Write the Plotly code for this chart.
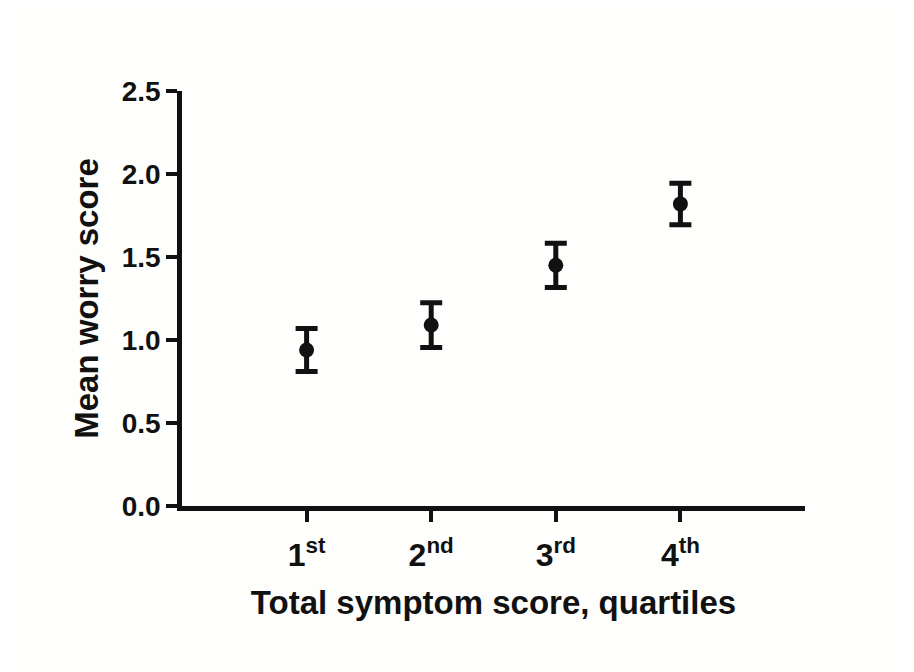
import plotly.graph_objects as go

categories = [1, 2, 3, 4]
tick_labels = ["1<sup>st</sup>", "2<sup>nd</sup>", "3<sup>rd</sup>", "4<sup>th</sup>"]
mean_worry = [0.94, 1.09, 1.45, 1.82]
error_vals = [0.13, 0.135, 0.133, 0.125]
y_ticks = [0.0, 0.5, 1.0, 1.5, 2.0, 2.5]
y_tick_labels = ["0.0", "0.5", "1.0", "1.5", "2.0", "2.5"]

fig = go.Figure()
fig.add_trace(go.Scatter(
    x=categories, y=mean_worry, mode="markers",
    marker=dict(color="#111111", size=15),
    error_y=dict(type="data", array=error_vals, visible=True,
                 color="#111111", thickness=5, width=11),
    showlegend=False,
))

font_family = "Liberation Sans, Arial, sans-serif"
fig.update_layout(
    width=914, height=672,
    margin=dict(l=174, r=117, t=83, b=174),
    paper_bgcolor="#fefefc", plot_bgcolor="#fefefc",
    font=dict(family=font_family, color="#111111"),
)
fig.update_xaxes(
    range=[0, 5], tickvals=categories, ticktext=tick_labels,
    showline=True, linecolor="#111111", linewidth=4.5,
    ticks="outside", ticklen=11, tickwidth=4, tickcolor="#111111",
    showgrid=False, zeroline=False, ticklabelstandoff=6,
    tickfont=dict(size=32, family=font_family, color="#111111", weight="bold"),
    title=dict(text="<b>Total symptom score, quartiles</b>", font=dict(size=33), standoff=20),
)
fig.update_yaxes(
    range=[0, 2.5], tickvals=y_ticks, ticktext=y_tick_labels,
    showline=True, linecolor="#111111", linewidth=4.5,
    ticks="outside", ticklen=11, tickwidth=4, tickcolor="#111111",
    showgrid=False, zeroline=False,
    tickfont=dict(size=28, family=font_family, color="#111111", weight="bold"),
    title=dict(text="<b>Mean worry score</b>", font=dict(size=33), standoff=15),
)
fig.write_html("out.html")
